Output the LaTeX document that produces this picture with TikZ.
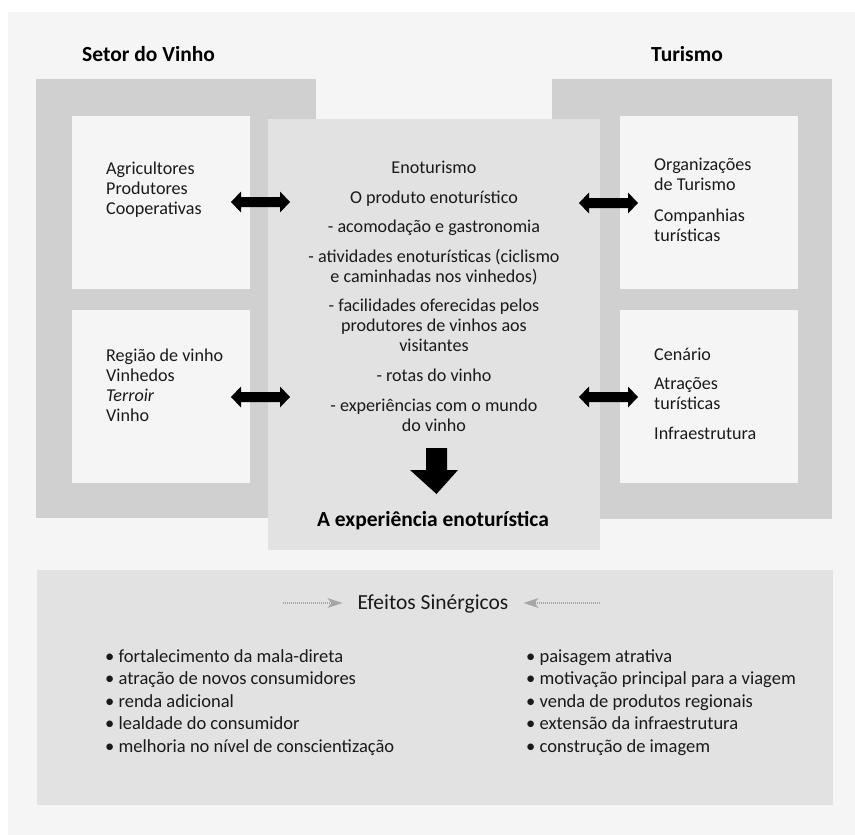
\documentclass[tikz,border=0pt]{standalone}
\usepackage{fontspec}
\setmainfont{Carlito}
\usetikzlibrary{arrows.meta}
\definecolor{bgc}{HTML}{F5F5F5}
\definecolor{framec}{HTML}{D0D0D0}
\definecolor{innerc}{HTML}{F5F5F5}
\definecolor{centerc}{HTML}{E2E2E2}
\definecolor{arrowgray}{HTML}{A6A6A6}
\definecolor{txt}{HTML}{1A1A1A}
\begin{document}
\begin{tikzpicture}[x=1pt,y=-1pt,
  box/.style={rectangle, inner sep=0pt, outer sep=0pt, anchor=north west},
  frame/.style={box, fill=framec},
  inner/.style={box, fill=innerc},
  centerbox/.style={box, fill=centerc},
  reg/.style={inner sep=0pt, text=txt, font=\fontsize{18.1}{20}\selectfont},
  lefttxt/.style={reg, anchor=base west, align=left},
  midtxt/.style={reg, anchor=base, align=center},
  boldtxt/.style={inner sep=0pt, text=black, font=\fontsize{21.5}{24}\selectfont\bfseries},
  bul/.style={inner sep=0pt, text=txt, anchor=base west, align=left, font=\fontsize{18.5}{22.5}\selectfont},
  dbl/.pic={\fill[black] (0,0) -- (10,-10.5) -- (10,-5) -- (49,-5) -- (49,-10.5) -- (59,0) -- (49,10.5) -- (49,5) -- (10,5) -- (10,10.5) -- cycle;},
  dotline/.style={draw=arrowgray, line width=1.1pt, dash pattern=on 1pt off 1pt, -{Stealth[length=15pt,width=10pt,inset=4pt,fill=arrowgray,line width=0pt]}}
]
\useasboundingbox (0,0) rectangle (855,835);
\fill[white] (0,0) rectangle (855,835);
\fill[bgc] (8,12) rectangle (855,835);

% frames
\node[frame, minimum width=280pt, minimum height=439pt] (lframe) at (36,79) {};
\node[frame, minimum width=280pt, minimum height=440pt] (rframe) at (552,79) {};
\node[inner, minimum width=178pt, minimum height=173pt] (lbox1) at (72,116) {};
\node[inner, minimum width=178pt, minimum height=173pt] (lbox2) at (72,310) {};
\node[inner, minimum width=178pt, minimum height=173pt] (rbox1) at (620,116) {};
\node[inner, minimum width=178pt, minimum height=173pt] (rbox2) at (620,310) {};
\node[centerbox, minimum width=332pt, minimum height=431pt] (cbox) at (268,119) {};
\node[centerbox, minimum width=796pt, minimum height=235pt] (bbox) at (37,570) {};

% headers
\node[boldtxt, anchor=base west] (hvinho) at (82,61) {Setor do Vinho};
\node[boldtxt, anchor=base west] (htur) at (651,61) {Turismo};

% left texts (base anchor = baseline of last line)
\node[lefttxt] (t1) at (106,214) {Agricultores\\Produtores\\Cooperativas};
\node[lefttxt] (t2) at (106,421) {Região de vinho\\Vinhedos\\\textit{Terroir}\\Vinho};

% right texts
\node[lefttxt] (t3) at (654,190) {Organizações\\de Turismo};
\node[lefttxt] (t4) at (654,241) {Companhias\\turísticas};
\node[lefttxt] (t5) at (654,360) {Cenário};
\node[lefttxt] (t6) at (654,409) {Atrações\\turísticas};
\node[lefttxt] (t7) at (654,439) {Infraestrutura};

% center texts
\node[midtxt] (c1) at (434,173) {Enoturismo};
\node[midtxt] (c2) at (434,203) {O produto enoturístico};
\node[midtxt] (c3) at (434,232) {- acomodação e gastronomia};
\node[midtxt] (c4) at (434,282) {- atividades enoturísticas (ciclismo\\e caminhadas nos vinhedos)};
\node[midtxt] (c5) at (434,351) {- facilidades oferecidas pelos\\produtores de vinhos aos\\visitantes};
\node[midtxt] (c6) at (434,381) {- rotas do vinho};
\node[midtxt] (c7) at (434,431) {- experiências com o mundo\\do vinho};
\node[boldtxt, anchor=base] (exp) at (433,526) {A experiência enoturística};

% down arrow
\fill[black] (426,448) -- (447,448) -- (447,470) -- (458,470) -- (436.5,494) -- (410,470) -- (426,470) -- cycle;

% double arrows
\pic at (231,202) {dbl};
\pic at (231,397) {dbl};
\pic at (579,203) {dbl};
\pic at (579,397) {dbl};

% Efeitos
\node[reg, anchor=base, font=\fontsize{21.5}{24}\selectfont] (ef) at (433,609) {Efeitos Sinérgicos};
\coordinate (efL) at (283,603);
\coordinate (efR) at (600,603);
\draw[dotline, shorten >=15pt] (efL) -- (ef.west |- efL);
\draw[dotline, shorten >=15pt] (efR) -- (ef.east |- efR);

% bullets
\node[bul] (bl) at (105,752) {• fortalecimento da mala-direta\\• atração de novos consumidores\\• renda adicional\\• lealdade do consumidor\\• melhoria no nível de conscientização};
\node[bul] (br) at (526,752) {• paisagem atrativa\\• motivação principal para a viagem\\• venda de produtos regionais\\• extensão da infraestrutura\\• construção de imagem};
\end{tikzpicture}
\end{document}
